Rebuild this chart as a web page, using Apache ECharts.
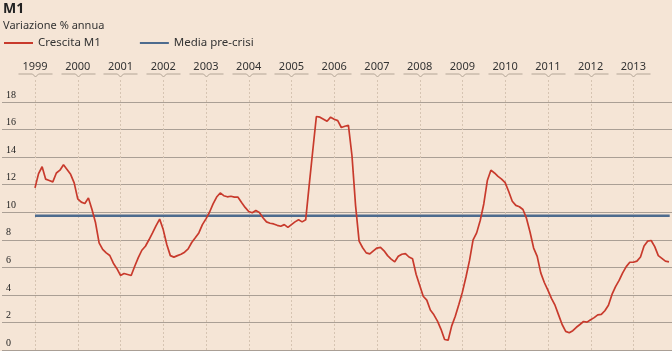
<!DOCTYPE html>
<html>
<head>
<meta charset="utf-8">
<script src="https://cdn.jsdelivr.net/npm/echarts@6/dist/echarts.min.js"></script>
<style>
  html, body { margin: 0; padding: 0; background: #f5e5d6; }
  #chart { width: 672px; height: 351px; }
</style>
</head>
<body>
<div id="chart"></div>
<script>
// anni sull'asse in alto
const years = [1999, 2000, 2001, 2002, 2003, 2004, 2005, 2006, 2007, 2008, 2009, 2010, 2011, 2012, 2013]
const yTicks = [0, 2, 4, 6, 8, 10, 12, 14, 16, 18]

// dati mensili, da gennaio 1999
const startYear = 1999
const m1Growth = [
  11.77, 12.8, 13.3, 12.4, 12.3, 12.2, 12.85, 13.05, 13.44, 13.1, 12.75, 12.13,
  10.97, 10.73, 10.63, 11.04, 10.2, 9.23, 7.78, 7.3, 7.05, 6.86, 6.3, 5.9,
  5.41, 5.55, 5.48, 5.41, 6.08, 6.7, 7.24, 7.53, 8.0, 8.5, 9.03, 9.5,
  8.74, 7.66, 6.85, 6.74, 6.85, 6.95, 7.1, 7.34, 7.8, 8.14, 8.5, 9.1,
  9.52, 10.0, 10.6, 11.1, 11.4, 11.2, 11.12, 11.16, 11.1, 11.09, 10.7, 10.35,
  10.05, 9.96, 10.12, 9.98, 9.6, 9.3, 9.2, 9.15, 9.05, 8.98, 9.1, 8.9,
  9.1, 9.3, 9.45, 9.3, 9.45, 12.0, 14.5, 16.95, 16.9, 16.75, 16.6, 16.9,
  16.75, 16.65, 16.15, 16.24, 16.31, 14.1, 10.5, 7.9, 7.42, 7.05, 6.98, 7.2,
  7.4, 7.45, 7.2, 6.85, 6.6, 6.4, 6.8, 6.95, 7.0, 6.75, 6.62, 5.5,
  4.7, 3.9, 3.62, 2.9, 2.55, 2.1, 1.5, 0.76, 0.71, 1.75, 2.45, 3.3,
  4.2, 5.3, 6.5, 8.0, 8.5, 9.4, 10.6, 12.3, 13.05, 12.85, 12.6, 12.4,
  12.15, 11.5, 10.8, 10.5, 10.4, 10.2, 9.55, 8.55, 7.4, 6.8, 5.6, 4.9,
  4.35, 3.75, 3.25, 2.55, 1.85, 1.35, 1.25, 1.4, 1.65, 1.85, 2.07, 2.02,
  2.2, 2.35, 2.55, 2.58, 2.85, 3.25, 4.03, 4.6, 5.05, 5.6, 6.05, 6.37,
  6.37, 6.45, 6.75, 7.55, 7.9, 7.95, 7.5, 6.85, 6.65, 6.45, 6.4
]

// media pre-crisi: valore e periodo coperto
const preCrisisMean = 9.75
const preCrisisSpan = [1999, 2013.85]

const sans = '"Noto Sans", "Open Sans", sans-serif'
const serif = '"Liberation Serif", "DejaVu Serif", serif'

const growthPoints = m1Growth.map((v, i) => [startYear + i / 12, v])
const meanPoints = preCrisisSpan.map(x => [x, preCrisisMean])

const chart = echarts.init(document.getElementById('chart'), null, { renderer: 'canvas' })

// linee verticali tratteggiate e parentesi sotto le etichette degli anni
function renderYearMarks(params, api) {
  const year = api.value(0)
  const bottom = api.coord([year, 0])
  const top = api.coord([year, 18])
  const x = Math.round(bottom[0]) + 0.5
  const lineTop = top[1] - 22
  const bY = top[1] - 28
  return {
    type: 'group',
    children: [
      {
        type: 'line',
        shape: { x1: x, y1: lineTop, x2: x, y2: bottom[1] },
        style: { stroke: '#d6c4b2', lineWidth: 1, lineDash: [2, 2] }
      },
      {
        type: 'polyline',
        shape: { points: [[x - 17, bY], [x - 3, bY], [x, bY + 3], [x + 3, bY], [x + 17, bY]] },
        style: { stroke: '#b3a596', lineWidth: 1, fill: null }
      }
    ]
  }
}

const option = {
  backgroundColor: '#f5e5d6',
  animation: false,
  title: {
    text: 'M1',
    subtext: 'Variazione % annua',
    left: 3,
    top: 2,
    padding: 0,
    itemGap: 4,
    textStyle: { fontFamily: sans, fontSize: 14, fontWeight: 'bold', color: '#222' },
    subtextStyle: { fontFamily: sans, fontSize: 11, color: '#333' }
  },
  legend: {
    left: 3,
    top: 37,
    padding: 0,
    itemWidth: 29,
    itemHeight: 12,
    itemGap: 38,
    itemStyle: { opacity: 0 },
    textStyle: { fontFamily: sans, fontSize: 11.5, color: '#333' },
    data: ['Crescita M1', 'Media pre-crisi']
  },
  grid: { left: 2, right: 0, top: 102, bottom: 1 },
  xAxis: {
    type: 'value',
    position: 'top',
    min: 1998.228,
    max: 2013.904,
    axisLine: { show: false },
    axisTick: { show: false },
    splitLine: { show: false },
    axisLabel: {
      customValues: years,
      formatter: v => String(v),
      margin: 30,
      fontFamily: sans,
      fontSize: 11,
      color: '#333'
    }
  },
  yAxis: {
    type: 'value',
    min: 0,
    max: 18,
    interval: 2,
    axisLine: { show: false },
    axisTick: { show: false },
    splitLine: { lineStyle: { color: '#aa9f95', width: 1 } },
    axisLabel: {
      inside: true,
      margin: 4,
      align: 'left',
      verticalAlign: 'bottom',
      padding: [0, 0, 2, 0],
      fontFamily: serif,
      fontSize: 10,
      color: '#222',
      formatter: v => (yTicks.includes(v) ? String(v) : '')
    }
  },
  series: [
    {
      type: 'custom',
      clip: false,
      silent: true,
      z: 1,
      renderItem: renderYearMarks,
      encode: { x: 0 },
      data: years.map(y => [y])
    },
    {
      name: 'Media pre-crisi',
      type: 'line',
      symbol: 'none',
      z: 3,
      lineStyle: { color: '#4d6b8e', width: 2.5 },
      itemStyle: { color: '#4d6b8e' },
      data: meanPoints
    },
    {
      name: 'Crescita M1',
      type: 'line',
      symbol: 'none',
      z: 4,
      lineStyle: { color: '#c83a2c', width: 1.7 },
      itemStyle: { color: '#c83a2c' },
      data: growthPoints
    }
  ]
}

chart.setOption(option)
window.addEventListener('resize', () => chart.resize())
</script>
</body>
</html>
